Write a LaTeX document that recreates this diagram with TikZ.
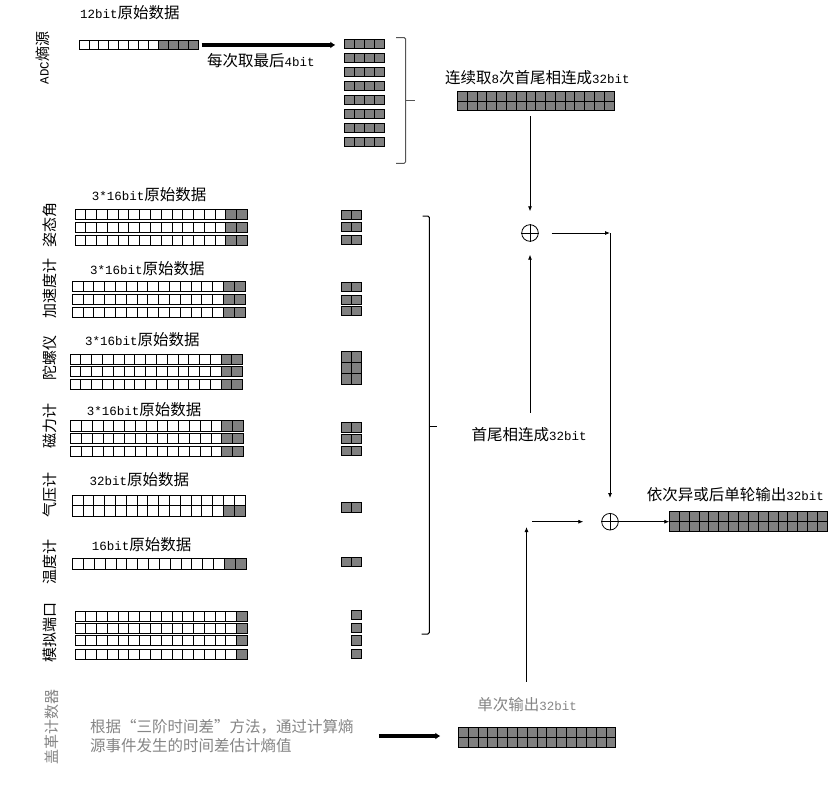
\documentclass[tikz,border=0pt]{standalone}
\usepackage{fontspec}
\newfontfamily\cjk{Noto Sans CJK SC}
\newfontfamily\mono{Liberation Mono}
\usetikzlibrary{arrows.meta}
\definecolor{cellgray}{HTML}{808080}
\definecolor{txtgray}{HTML}{858585}
\definecolor{bracegray}{HTML}{555555}
\newcommand\latn[1]{{\mono\fontsize{12.5}{15}\selectfont #1}}
% #1 x, #2 y, #3 number of cells, #4 number of gray cells, #5 cell width, #6 cell height
\newcommand\bitrow[6]{%
  \foreach \i in {1,...,#3}{%
    \ifnum\i>\numexpr#3-#4\relax\def\cellfill{cellgray}\else\def\cellfill{white}\fi
    \filldraw[cellline, fill=\cellfill] ({#1+(\i-1)*#5},#2) rectangle ++(#5,#6);
  }%
}
\begin{document}
\begin{tikzpicture}[x=1pt,y=-1pt,
  lbl/.style={inner sep=0pt, font=\cjk\fontsize{15.5}{18.3}\selectfont, anchor=west},
  vlbl/.style={inner sep=0pt, font=\cjk\fontsize{15}{18}\selectfont, rotate=90},
  cellline/.style={draw=black, line width=0.8pt},
  arr/.style={-{Latex[length=5pt,width=4pt]}, line width=0.8pt},
  thickarr/.style={-{Latex[length=5pt,width=7pt]}, line width=3.5pt},
  brace/.style={line width=1pt, rounded corners=1.5pt},
  xorsym/.style={circle, draw, line width=0.8pt, minimum size=16.6pt, inner sep=0pt},
  hold/.style={inner sep=0pt, anchor=north west}
]
\useasboundingbox[fill=white] (0,0) rectangle (832,795);

% ---------------- ADC entropy source ----------------
\node[lbl] (adclab) at (80,13) {\latn{12bit}原始数据};
\node[vlbl] (vadc) at (43,58) {\latn{ADC}熵源};
\bitrow{79}{40}{12}{4}{9.94}{9.5}
\node[hold, minimum width=119.3pt, minimum height=9.5pt] (adcrow) at (79,40) {};
\foreach \yy in {39,53,67,81,95,109,123,137}{\bitrow{344.3}{\yy}{4}{4}{10}{9.3}}
\node[hold, minimum width=40pt, minimum height=107pt] (adcstack) at (344.3,39) {};
\draw[thickarr, shorten <=3pt, shorten >=9pt] (adcrow.east) -- (adcrow.east -| adcstack.west);
\node[lbl] (takelab) at (207,61) {每次取最后\latn{4bit}};
\draw[brace, draw=bracegray] (396,37.5) -- (405.7,37.5) -- (405.7,163.3) -- (396,163.3);
\draw[brace, draw=bracegray] (405.7,100.7) -- (415,100.7);

\node[lbl] (catlab) at (445,78) {连续取\latn{8}次首尾相连成\latn{32bit}};
\bitrow{457.5}{91.5}{16}{16}{9.78}{9.6}
\bitrow{457.5}{101.1}{16}{16}{9.78}{9.6}
\node[hold, minimum width=156.5pt, minimum height=19.2pt] (blk1) at (457.5,91.5) {};

% ---------------- sensors ----------------
% attitude
\node[lbl] (t1) at (91.7,195) {\latn{3*16bit}原始数据};
\foreach \yy in {209.3,222.3,235.3}{\bitrow{75}{\yy}{16}{2}{10.77}{10}}
\foreach \yy in {210.7,222.7,235}{\bitrow{341.7}{\yy}{2}{2}{10}{9}}
\node[vlbl] (v1) at (50,225) {姿态角};
% accelerometer
\node[lbl] (t2) at (90,268.3) {\latn{3*16bit}原始数据};
\foreach \yy in {281.7,294.3,307.3}{\bitrow{72.3}{\yy}{16}{2}{10.79}{10}}
\foreach \yy in {282.7,295,306.7}{\bitrow{341.7}{\yy}{2}{2}{10}{9}}
\node[vlbl] (v2) at (50,288) {加速度计};
% gyroscope
\node[lbl] (t3) at (85,340) {\latn{3*16bit}原始数据};
\foreach \yy in {354,366.7,379.3}{\bitrow{70}{\yy}{16}{2}{10.79}{10}}
\foreach \yy in {351.5,362.5,373.5}{\bitrow{341.7}{\yy}{2}{2}{10}{10.8}}
\node[vlbl] (v3) at (50,358) {陀螺仪};
% magnetometer
\node[lbl] (t4) at (86.7,410) {\latn{3*16bit}原始数据};
\foreach \yy in {420.7,433.3,446}{\bitrow{70.7}{\yy}{16}{2}{10.79}{10.5}}
\foreach \yy in {422.7,434,446}{\bitrow{341.7}{\yy}{2}{2}{10}{9.3}}
\node[vlbl] (v4) at (50,426) {磁力计};
% barometer
\node[lbl] (t5) at (89.3,480) {\latn{32bit}原始数据};
\bitrow{72.3}{495}{16}{0}{10.79}{10.7}
\bitrow{72.3}{505.7}{16}{2}{10.79}{10.7}
\bitrow{341.7}{502.7}{2}{2}{10}{10}
\node[vlbl] (v5) at (50,495) {气压计};
% thermometer
\node[lbl] (t6) at (91.7,545) {\latn{16bit}原始数据};
\bitrow{72.7}{558.3}{16}{2}{10.83}{11}
\bitrow{341.7}{557.3}{2}{2}{10}{8.7}
\node[vlbl] (v6) at (50,562) {温度计};
% analog port
\foreach \yy in {611.7,623.3,635.7,649}{\bitrow{75}{\yy}{16}{1}{10.77}{10}}
\foreach \yy in {610,623.3,635.7,649}{\bitrow{351.7}{\yy}{1}{1}{10}{9.3}}
\node[vlbl] (v7) at (50,632) {模拟端口};

\draw[brace, draw=black] (422.7,216) -- (429.3,216) -- (429.3,634) -- (421.7,634);
\draw[brace, draw=black] (429.3,426) -- (436.7,426);
\node[lbl, anchor=center] (lab2) at (529,435) {首尾相连成\latn{32bit}};

% ---------------- Geiger counter ----------------
\node[vlbl, text=txtgray] (v8) at (52,727) {盖革计数器};
\node[lbl, text=txtgray, align=left] (txt) at (90,736) {根据“三阶时间差”方法，通过计算熵\\源事件发生的时间差估计熵值};
\node[lbl, anchor=center, text=txtgray] (lab3) at (527,705) {单次输出\latn{32bit}};
\bitrow{458.3}{727.3}{16}{16}{9.84}{10}
\bitrow{458.3}{737.3}{16}{16}{9.84}{10}
\node[hold, minimum width=157.4pt, minimum height=20pt] (blk4) at (458.3,727.3) {};
\draw[thickarr, shorten <=25pt, shorten >=18pt] (txt.east) -- (txt.east -| blk4.west);

% ---------------- XOR stages ----------------
\node[xorsym] (xor1) at (530,233) {};
\draw[line width=0.8pt] (xor1.north) -- (xor1.south) (xor1.west) -- (xor1.east);
\node[xorsym] (xor2) at (610,521.7) {};
\draw[line width=0.8pt] (xor2.north) -- (xor2.south) (xor2.west) -- (xor2.east);

\draw[arr, shorten <=5pt, shorten >=13pt] (blk1.south -| xor1) -- (xor1.north);
\draw[arr, shorten <=15pt, shorten >=13pt] (lab2.north -| xor1) -- (xor1.south);
\coordinate (c1) at (610,233);
\draw[arr, shorten <=13pt] (xor1.east) -- (c1);
\draw[arr, shorten >=15pt] (c1) -- (xor2.north);
\coordinate (c2) at (532,521.7);
\draw[arr, shorten >=18pt] (c2) -- (xor2.west);
\coordinate (c4) at (526.5,527);
\draw[arr, shorten <=16pt] (lab3.north -| c4) -- (c4);

\node[lbl] (outlab) at (646.7,495) {依次异或后单轮输出\latn{32bit}};
\bitrow{669.3}{511.7}{16}{16}{9.875}{9.65}
\bitrow{669.3}{521.35}{16}{16}{9.875}{9.65}
\node[hold, minimum width=158pt, minimum height=19.3pt] (blk3) at (669.3,511.7) {};
\draw[arr] (xor2.east) -- (xor2.east -| blk3.west);
\end{tikzpicture}
\end{document}
